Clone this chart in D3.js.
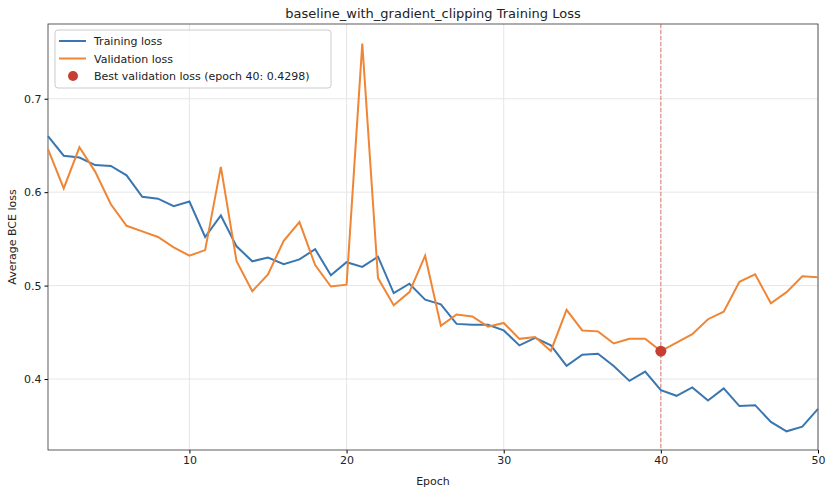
<!DOCTYPE html><html><head><meta charset="utf-8">
<script src="https://cdn.jsdelivr.net/npm/d3@7"></script>
<style>body{margin:0;background:#fff}text{font-family:"DejaVu Sans",sans-serif;fill:#222}</style></head><body>
<svg id="c" width="828" height="493"></svg>
<script>
const epochs = d3.range(1, 51);
const trainLoss = [0.660,0.639,0.637,0.629,0.628,0.618,0.595,0.593,0.585,0.590,0.552,0.575,0.542,0.526,0.530,0.523,0.528,0.539,0.511,0.525,0.520,0.531,0.492,0.502,0.485,0.480,0.459,0.458,0.458,0.452,0.436,0.444,0.436,0.414,0.426,0.427,0.414,0.398,0.408,0.388,0.382,0.391,0.377,0.390,0.371,0.372,0.354,0.344,0.349,0.368];
const valLoss = [0.646,0.604,0.648,0.622,0.587,0.564,0.558,0.552,0.541,0.532,0.538,0.627,0.526,0.494,0.512,0.548,0.568,0.522,0.499,0.501,0.759,0.508,0.479,0.493,0.532,0.457,0.469,0.467,0.456,0.460,0.443,0.445,0.430,0.474,0.452,0.451,0.438,0.443,0.443,0.4298,0.439,0.448,0.464,0.472,0.504,0.512,0.481,0.493,0.510,0.509];
const xTicks = [10,20,30,40,50];
const yTicks = [0.4,0.5,0.6,0.7];
const bestEpoch = 40, bestVal = 0.4298;

const svg = d3.select("#c");
const L=48,R=818,T=24,B=450;
const x = d3.scaleLinear().domain([1,50]).range([L,R]);
const y = d3.scaleLinear().domain([0.324,0.780]).range([B,T]);

svg.append("g").selectAll("line").data(xTicks).join("line").attr("x1",d=>x(d)).attr("x2",d=>x(d)).attr("y1",T).attr("y2",B).attr("stroke","#e6e6e6");
svg.append("g").selectAll("line").data(yTicks).join("line").attr("y1",d=>y(d)).attr("y2",d=>y(d)).attr("x1",L).attr("x2",R).attr("stroke","#e6e6e6");

const xa = svg.append("g").attr("transform",`translate(0,${B})`).call(d3.axisBottom(x).tickValues(xTicks).tickSize(3.5).tickFormat(d3.format("d")));
const ya = svg.append("g").attr("transform",`translate(${L},0)`).call(d3.axisLeft(y).tickValues(yTicks).tickSize(3.5).tickFormat(d3.format(".1f")));
[xa,ya].forEach(a=>{a.selectAll("text").attr("font-size",11);a.select(".domain").remove();});
svg.append("rect").attr("x",L).attr("y",T).attr("width",R-L).attr("height",B-T).attr("fill","none").attr("stroke","#333").attr("stroke-width",0.8);

const line = arr => d3.line().x((d,i)=>x(epochs[i])).y(d=>y(d))(arr);
svg.append("line").attr("x1",x(bestEpoch)).attr("x2",x(bestEpoch)).attr("y1",T).attr("y2",B).attr("stroke","#d9534f").attr("stroke-dasharray","4,2").attr("stroke-width",0.9).attr("opacity",0.8);
svg.append("path").attr("d",line(trainLoss)).attr("fill","none").attr("stroke","#3a76af").attr("stroke-width",2);
svg.append("path").attr("d",line(valLoss)).attr("fill","none").attr("stroke","#ef8636").attr("stroke-width",2);
svg.append("circle").attr("cx",x(bestEpoch)).attr("cy",y(bestVal)).attr("r",5.5).attr("fill","#c73e32");

svg.append("text").attr("x",(L+R)/2).attr("y",18).attr("text-anchor","middle").attr("font-size",13).text("baseline_with_gradient_clipping Training Loss");
svg.append("text").attr("x",(L+R)/2).attr("y",485).attr("text-anchor","middle").attr("font-size",11).text("Epoch");
svg.append("text").attr("transform",`translate(16,${(T+B)/2}) rotate(-90)`).attr("text-anchor","middle").attr("font-size",11).text("Average BCE loss");

const lg = svg.append("g").attr("transform","translate(55,30)");
lg.append("rect").attr("width",276).attr("height",58).attr("rx",3).attr("fill","#fff").attr("fill-opacity",0.85).attr("stroke","#ccc");
const items=[["Training loss","#3a76af","line"],["Validation loss","#ef8636","line"],["Best validation loss (epoch 40: 0.4298)","#c73e32","dot"]];
items.forEach((it,i)=>{const yy=11+i*17.5;
 if(it[2]==="line") lg.append("line").attr("x1",4).attr("x2",31).attr("y1",yy).attr("y2",yy).attr("stroke",it[1]).attr("stroke-width",2);
 else lg.append("circle").attr("cx",18).attr("cy",yy).attr("r",5).attr("fill",it[1]);
 lg.append("text").attr("x",39).attr("y",yy+4).attr("font-size",11).text(it[0]);});
</script></body></html>
